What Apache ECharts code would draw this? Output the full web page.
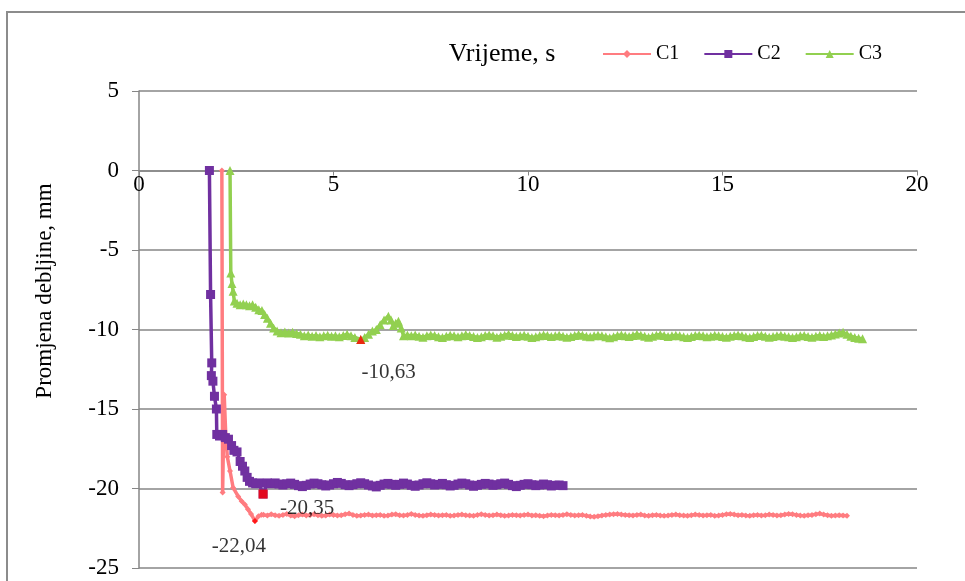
<!DOCTYPE html>
<html>
<head>
<meta charset="utf-8">
<script src="https://cdn.jsdelivr.net/npm/echarts@6/dist/echarts.min.js"></script>
<style>
html,body{margin:0;padding:0;background:#fff;}
#chart{width:965px;height:581px;}
</style>
</head>
<body>
<div id="chart"></div>
<script>
// ---- Data ----
const seriesNames = ['C1', 'C2', 'C3'];
const xTitle = 'Vrijeme, s';
const yTitle = 'Promjena debljine, mm';

// transient parts: [time s, change mm]
const c1Start = [[2.13,0],[2.15,-20.25],[2.19,-14.1],[2.23,-16.6],[2.27,-18.0],[2.34,-18.9],[2.42,-19.95],[2.55,-20.5],[2.64,-20.8],[2.72,-21.0],[2.8,-21.3],[2.88,-21.6],[2.98,-22.04],[3.07,-21.75],[3.15,-21.65]];
// steady part sampled every 0.1 s starting at 3.2 s
const c1TailStart = 3.2;
const c1Tail = [
-21.65,-21.7,-21.62,-21.68,-21.72,-21.66,-21.6,-21.7,-21.74,-21.68,
-21.64,-21.7,-21.66,-21.62,-21.68,-21.72,-21.7,-21.64,-21.66,-21.7,
-21.68,-21.62,-21.58,-21.66,-21.72,-21.7,-21.66,-21.64,-21.7,-21.68,
-21.66,-21.72,-21.7,-21.64,-21.62,-21.68,-21.7,-21.66,-21.6,-21.66,
-21.7,-21.72,-21.68,-21.64,-21.66,-21.7,-21.68,-21.66,-21.72,-21.7,
-21.66,-21.64,-21.68,-21.7,-21.72,-21.66,-21.62,-21.66,-21.7,-21.68,
-21.64,-21.68,-21.72,-21.7,-21.66,-21.68,-21.7,-21.66,-21.64,-21.7,
-21.68,-21.72,-21.74,-21.7,-21.66,-21.68,-21.7,-21.66,-21.62,-21.66,
-21.7,-21.68,-21.66,-21.72,-21.76,-21.78,-21.74,-21.7,-21.66,-21.64,
-21.62,-21.6,-21.64,-21.66,-21.68,-21.7,-21.66,-21.64,-21.7,-21.72,
-21.68,-21.66,-21.7,-21.72,-21.7,-21.66,-21.64,-21.68,-21.7,-21.72,
-21.68,-21.64,-21.66,-21.7,-21.68,-21.66,-21.72,-21.7,-21.66,-21.62,
-21.6,-21.64,-21.68,-21.66,-21.7,-21.72,-21.68,-21.66,-21.7,-21.68,
-21.64,-21.66,-21.7,-21.68,-21.64,-21.6,-21.62,-21.66,-21.7,-21.72,
-21.68,-21.66,-21.62,-21.58,-21.64,-21.68,-21.72,-21.7,-21.68,-21.7,
-21.72];

const c2Start = [[1.81,0],[1.84,-7.8],[1.87,-12.1],[1.86,-12.9],[1.9,-13.25],[1.94,-14.2],[1.99,-15.0],[2.0,-16.6],[2.07,-16.7],[2.15,-16.6],[2.22,-16.8],[2.3,-16.9],[2.38,-17.3],[2.44,-17.6],[2.52,-17.7],[2.6,-18.3],[2.66,-18.6],[2.72,-18.9],[2.78,-19.3],[2.84,-19.55],[2.92,-19.65],[3.0,-19.7],[3.08,-19.65],[3.19,-20.35],[3.3,-19.65]];
const c2TailStart = 3.4;
const c2Tail = [
-19.7,-19.65,-19.72,-19.78,-19.7,-19.66,-19.74,-19.82,-19.88,-19.8,
-19.72,-19.66,-19.7,-19.76,-19.84,-19.78,-19.7,-19.62,-19.68,-19.76,
-19.82,-19.76,-19.7,-19.64,-19.7,-19.78,-19.84,-19.9,-19.8,-19.72,
-19.68,-19.74,-19.8,-19.74,-19.66,-19.72,-19.8,-19.86,-19.78,-19.7,
-19.64,-19.7,-19.78,-19.74,-19.68,-19.76,-19.84,-19.8,-19.72,-19.66,
-19.7,-19.78,-19.86,-19.8,-19.74,-19.68,-19.72,-19.8,-19.76,-19.7,
-19.66,-19.74,-19.82,-19.88,-19.8,-19.74,-19.7,-19.76,-19.82,-19.78,
-19.72,-19.76,-19.84,-19.8,-19.78,-19.82];

const c3Start = [[2.34,0],[2.36,-6.45],[2.39,-7.1],[2.42,-7.6],[2.45,-8.2],[2.52,-8.35],[2.6,-8.45],[2.68,-8.4],[2.76,-8.45],[2.84,-8.5],[2.92,-8.45],[3.0,-8.6],[3.08,-8.75],[3.16,-8.8],[3.23,-9.05],[3.3,-9.3],[3.38,-9.6],[3.46,-9.9],[3.55,-10.1],[3.65,-10.2],[3.75,-10.15],[3.85,-10.22],[3.95,-10.18],[4.05,-10.25],[4.15,-10.3],[4.25,-10.4],[4.35,-10.35],[4.45,-10.42],[4.55,-10.38],[4.65,-10.45],[4.75,-10.4],[4.85,-10.36],[4.95,-10.42],[5.05,-10.4],[5.15,-10.45],[5.25,-10.38],[5.35,-10.3],[5.45,-10.4],[5.55,-10.5],[5.7,-10.63],[5.8,-10.5],[5.9,-10.3],[6.0,-10.1],[6.1,-10.0],[6.2,-9.7],[6.3,-9.4],[6.41,-9.16],[6.48,-9.4],[6.54,-9.75],[6.6,-9.6],[6.67,-9.48],[6.74,-9.9],[6.8,-10.4],[6.9,-10.35]];
const c3TailStart = 7.0;
const c3Tail = [
-10.4,-10.35,-10.42,-10.48,-10.4,-10.34,-10.38,-10.45,-10.5,-10.42,
-10.36,-10.4,-10.46,-10.4,-10.32,-10.38,-10.44,-10.5,-10.45,-10.38,
-10.34,-10.4,-10.48,-10.42,-10.36,-10.3,-10.38,-10.44,-10.4,-10.36,
-10.42,-10.5,-10.46,-10.4,-10.34,-10.38,-10.44,-10.4,-10.36,-10.42,
-10.48,-10.44,-10.38,-10.32,-10.36,-10.42,-10.46,-10.4,-10.36,-10.4,
-10.46,-10.52,-10.45,-10.38,-10.34,-10.4,-10.44,-10.38,-10.3,-10.36,
-10.42,-10.48,-10.42,-10.36,-10.32,-10.38,-10.44,-10.4,-10.36,-10.4,
-10.45,-10.5,-10.44,-10.38,-10.36,-10.4,-10.46,-10.42,-10.36,-10.4,
-10.44,-10.48,-10.42,-10.38,-10.34,-10.4,-10.46,-10.5,-10.44,-10.38,
-10.36,-10.42,-10.48,-10.44,-10.4,-10.36,-10.42,-10.46,-10.5,-10.46,
-10.4,-10.38,-10.44,-10.48,-10.42,-10.38,-10.44,-10.4,-10.34,-10.28,
-10.22,-10.18,-10.3,-10.42,-10.5,-10.55,-10.58];
const sampleStep = 0.1;

// highlighted minima
const minX = [2.98, 3.19, 5.7];
const minY = [-22.04, -20.35, -10.63];
const minText = ['-22,04', '-20,35', '-10,63'];

const xTicks = {min: 0, max: 20, interval: 5};
const yTicks = {min: -25, max: 5, interval: 5};

// ---- build ----
function build(start, t0, tail) {
  const out = start.map(p => [p[0], p[1]]);
  tail.forEach((v, i) => out.push([+(t0 + i * sampleStep).toFixed(2), v]));
  return out;
}
const FONT = 'Liberation Serif';
const colors = ['#FF7C80', '#7030A0', '#92D050'];
const symbols = ['diamond', 'rect', 'triangle'];
const symSizes = [6, 9, 9];
const lineWidths = [3.5, 3.5, 3.5];
const minOffsets = [[-16, 26], [44, 14], [28, 33]];

const GRID_TOP = 91, GRID_BOTTOM = 13, H = 581;
const gridH = H - GRID_TOP - GRID_BOTTOM;
// x axis crosses the value axis at y = 0
const zeroFromBottom = gridH * (0 - yTicks.min) / (yTicks.max - yTicks.min);

const chart = echarts.init(document.getElementById('chart'), null, {renderer: 'canvas'});
const lineData = [build(c1Start, c1TailStart, c1Tail), build(c2Start, c2TailStart, c2Tail), build(c3Start, c3TailStart, c3Tail)];

const series = seriesNames.map((n, i) => ({
  name: n, type: 'line', data: lineData[i],
  color: colors[i],
  lineStyle: {color: colors[i], width: lineWidths[i]},
  itemStyle: {color: colors[i]},
  symbol: symbols[i], symbolSize: symSizes[i],
  showSymbol: true, showAllSymbol: true,
  animation: false, z: 2 + i
}));
series.push({
  type: 'scatter', name: 'min', z: 10, animation: false,
  data: minX.map((x, i) => ({
    value: [x, minY[i]], symbol: symbols[i], symbolSize: symSizes[i],
    label: {show: true, formatter: minText[i], position: 'inside', offset: minOffsets[i]}
  })),
  itemStyle: {color: '#FF0000'},
  label: {color: '#000', fontFamily: FONT, fontSize: 21}
});

chart.setOption({
  backgroundColor: '#fff',
  animation: false,
  grid: {left: 139, right: 48, top: GRID_TOP, bottom: GRID_BOTTOM, containLabel: false, outerBoundsMode: 'none'},
  legend: {
    data: seriesNames, left: 602, top: 44, padding: 0,
    itemWidth: 48, itemHeight: 10, itemGap: 24,
    textStyle: {fontFamily: FONT, fontSize: 20, color: '#000'}
  },
  xAxis: {
    type: 'value', min: xTicks.min, max: xTicks.max, interval: xTicks.interval,
    position: 'bottom', offset: -zeroFromBottom,
    axisLine: {show: true, onZero: false, lineStyle: {color: '#868686', width: 1.5}},
    axisTick: {show: true, length: 5, lineStyle: {color: '#868686'}},
    axisLabel: {margin: 3, fontFamily: FONT, fontSize: 23, color: '#000'},
    splitLine: {show: false}
  },
  yAxis: {
    type: 'value', min: yTicks.min, max: yTicks.max, interval: yTicks.interval,
    axisLine: {show: true, onZero: false, lineStyle: {color: '#868686', width: 1.5}},
    axisTick: {show: true, length: 7, lineStyle: {color: '#868686'}},
    axisLabel: {margin: 20, fontFamily: FONT, fontSize: 23, color: '#000'},
    splitLine: {show: true, lineStyle: {color: '#868686', width: 1.5}}
  },
  graphic: [
    {type: 'rect', z: -1, shape: {x: 7, y: 12, width: 1000, height: 1000},
     style: {fill: null, stroke: '#8c8c8c', lineWidth: 2}},
    {type: 'text', x: 502, y: 54, style: {text: xTitle, font: '26px "' + FONT + '"', fill: '#000', textAlign: 'center', textVerticalAlign: 'middle'}},
    {type: 'text', x: 45, y: 291, rotation: Math.PI / 2, style: {text: yTitle, font: '23px "' + FONT + '"', fill: '#000', textAlign: 'center', textVerticalAlign: 'middle'}}
  ],
  series: series
});
</script>
</body>
</html>
